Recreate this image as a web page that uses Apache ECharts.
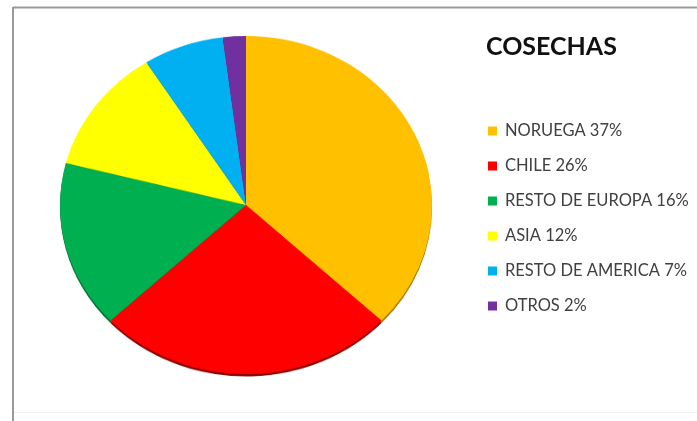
<!DOCTYPE html>
<html>
<head>
<meta charset="utf-8">
<script src="https://cdn.jsdelivr.net/npm/echarts@6/dist/echarts.min.js"></script>
<style>
  html, body { margin: 0; padding: 0; background: #fff; }
  #wrap { position: relative; width: 697px; height: 421px; overflow: hidden; }
  #pie, #info { position: absolute; left: 0; top: 0; width: 697px; height: 421px; }
  /* the pie is drawn slightly tilted: squash it vertically around its centre */
  #pie { transform: scaleY(0.909); transform-origin: 246px 205px; }
</style>
</head>
<body>
<div id="wrap">
  <div id="pie"></div>
  <div id="info"></div>
</div>
<script>
// Harvest share by origin (%)
const regions = ['NORUEGA', 'CHILE', 'RESTO DE EUROPA', 'ASIA', 'RESTO DE AMERICA', 'OTROS'];
const shares = [37, 26, 16, 12, 7, 2];
const colors = ['#FFC000', '#FF0000', '#00B050', '#FFFF00', '#00B0F0', '#7030A0'];
const rimColors = ['#9c7400', '#8a0000', '#006a30', '#9a9a00', '#006a90', '#40185e'];
const title = 'COSECHAS';

const pieData = regions.map((name, i) => ({ name, value: shares[i], itemStyle: { color: colors[i] } }));
const rimData = regions.map((name, i) => ({ name, value: shares[i], itemStyle: { color: rimColors[i] } }));

const pieChart = echarts.init(document.getElementById('pie'), null, { renderer: 'canvas' });
pieChart.setOption({
  animation: false,
  series: [
    {
      // darker edge underneath gives the slice set a little depth
      type: 'pie',
      center: [246, 207.5],
      radius: 186,
      startAngle: 90,
      clockwise: true,
      silent: true,
      label: { show: false },
      labelLine: { show: false },
      itemStyle: { borderWidth: 0 },
      data: rimData
    },
    {
      type: 'pie',
      center: [246, 205],
      radius: 186,
      startAngle: 90,
      clockwise: true,
      label: { show: false },
      labelLine: { show: false },
      itemStyle: { borderWidth: 0 },
      emphasis: { disabled: true },
      data: pieData
    }
  ]
});

const infoChart = echarts.init(document.getElementById('info'), null, { renderer: 'canvas' });
infoChart.setOption({
  animation: false,
  title: {
    text: title,
    left: 481,
    top: 29,
    textStyle: { fontFamily: 'Lato', fontWeight: 'bold', fontSize: 25, color: '#111' }
  },
  legend: {
    orient: 'vertical',
    left: 488,
    top: 122,
    padding: 0,
    itemWidth: 9,
    itemHeight: 9,
    itemGap: 17,
    icon: 'rect',
    selectedMode: false,
    data: regions,
    formatter: name => name + ' ' + shares[regions.indexOf(name)] + '%',
    textStyle: { fontFamily: 'Lato', fontSize: 16.5, color: '#404040', lineHeight: 18, padding: [0, 0, 0, 3] }
  },
  graphic: [
    { type: 'line', shape: { x1: 13, y1: 7.5, x2: 697, y2: 7.5 }, style: { stroke: '#9a9a9a', lineWidth: 2 } },
    { type: 'line', shape: { x1: 13, y1: 7, x2: 13, y2: 421 }, style: { stroke: '#9a9a9a', lineWidth: 2 } },
    { type: 'line', shape: { x1: 14, y1: 412.5, x2: 697, y2: 412.5 }, style: { stroke: '#f0f0f0', lineWidth: 1 } }
  ],
  series: [
    {
      // zero-size pie so the legend can pick up names and colours
      type: 'pie',
      radius: 0,
      silent: true,
      label: { show: false },
      labelLine: { show: false },
      data: pieData
    }
  ]
});
</script>
</body>
</html>
